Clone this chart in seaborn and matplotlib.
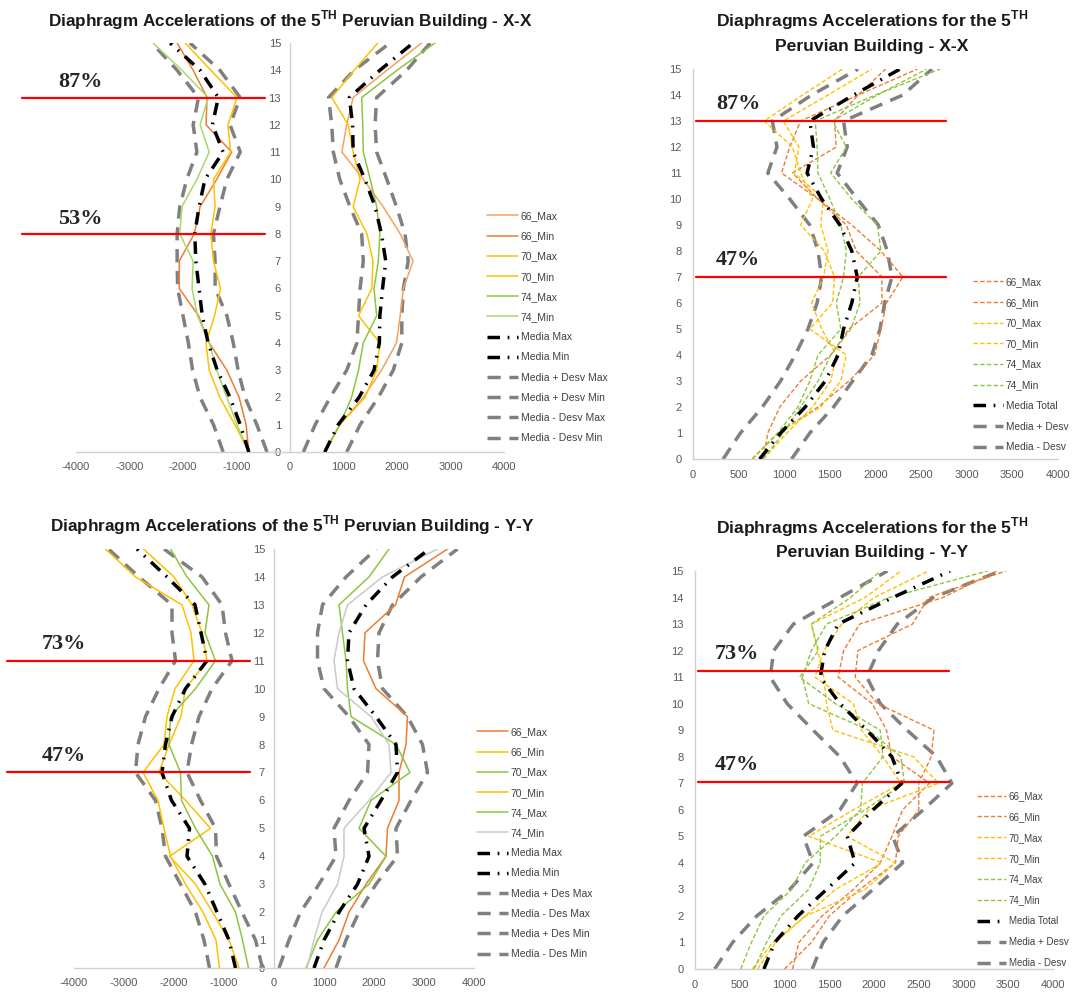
import matplotlib
matplotlib.use('Agg')
import matplotlib.pyplot as plt
import seaborn as sns
import numpy as np

W, H = 1072, 992

floors = list(range(16))

# ---- X-X direction (Min series on the negative side) ----
xx_66_max = [650, 930, 1370, 1710, 1990, 2060, 2120, 2300, 2060, 1740, 1370, 970, 1060, 1180, 1810, 2460]
xx_66_min = [-770, -820, -950, -1180, -1510, -1710, -2070, -2070, -1790, -1680, -1370, -1090, -1570, -1550, -1810, -2110]
xx_70_max = [650, 930, 1400, 1620, 1680, 1280, 1530, 1550, 1440, 1180, 1310, 1180, 1090, 780, 1200, 1640]
xx_70_min = [-770, -1030, -1310, -1510, -1570, -1410, -1300, -1430, -1480, -1400, -1430, -1110, -1160, -990, -1480, -1960]
xx_74_max = [650, 930, 1150, 1280, 1370, 1620, 1570, 1650, 1680, 1620, 1500, 1370, 1360, 1340, 2000, 2710]
xx_74_min = [-770, -990, -1180, -1370, -1510, -1730, -1830, -1810, -2060, -2020, -1740, -1510, -1680, -1530, -2020, -2560]
xx_media_max = [650, 900, 1290, 1570, 1670, 1680, 1730, 1790, 1710, 1590, 1400, 1180, 1170, 1110, 1680, 2300]
xx_media_min = [-770, -930, -1120, -1360, -1530, -1640, -1700, -1760, -1780, -1700, -1590, -1250, -1450, -1340, -1680, -2240]
xx_up_max = [1060, 1310, 1650, 1930, 2090, 2090, 2120, 2210, 2150, 1990, 1810, 1620, 1590, 1620, 2180, 2620]
xx_up_min = [-430, -620, -840, -970, -1060, -1180, -1400, -1400, -1430, -1310, -1180, -930, -1120, -930, -1310, -1870]
xx_lo_max = [250, 470, 750, 1060, 1250, 1280, 1310, 1370, 1340, 1120, 930, 810, 780, 720, 1200, 1870]
xx_lo_min = [-1250, -1430, -1680, -1820, -1900, -2000, -2100, -2110, -2110, -2060, -1930, -1740, -1810, -1710, -2110, -2580]
# combined X-X chart
xx_media_total = [730, 960, 1230, 1450, 1590, 1650, 1740, 1800, 1740, 1610, 1410, 1250, 1320, 1280, 1760, 2270]
xx_total_up = [1080, 1280, 1540, 1750, 1960, 2050, 2100, 2180, 2130, 2030, 1800, 1580, 1690, 1650, 2300, 2620]
xx_total_lo = [330, 520, 760, 960, 1120, 1260, 1360, 1410, 1370, 1280, 1060, 820, 920, 870, 1300, 1810]

# ---- Y-Y direction ----
yy_66_max = [1000, 1300, 1500, 1840, 2240, 2270, 2500, 2500, 2640, 2670, 2040, 1790, 1820, 2430, 2610, 3470]
yy_66_min = [-1090, -1160, -1420, -1770, -2070, -2200, -2320, -2620, -2200, -2140, -1980, -1600, -1660, -1840, -2770, -3370]
yy_70_max = [640, 870, 1240, 1900, 2240, 1700, 1940, 2720, 2440, 1540, 1470, 1440, 1370, 1300, 1900, 2300]
yy_70_min = [-700, -900, -1230, -1570, -2090, -1270, -1770, -2300, -2100, -1860, -1770, -1340, -1440, -1640, -2000, -2610]
yy_74_max = [-510, -630, -770, -1080, -1230, -1570, -1850, -1870, -2100, -2070, -1570, -1170, -1380, -1300, -1740, -2070]
yy_74_min = [660, 800, 960, 1270, 1400, 1400, 1900, 2340, 2300, 1940, 1270, 1200, 1300, 1470, 2170, 3270]
yy_media_max = [800, 1000, 1300, 1670, 1900, 1800, 2140, 2470, 2440, 2040, 1600, 1470, 1500, 1840, 2370, 3110]
yy_media_min = [-770, -900, -1140, -1380, -1740, -1690, -2050, -2240, -2170, -2040, -1770, -1340, -1460, -1580, -2140, -2740]
yy_up_max = [1240, 1440, 1700, 2040, 2470, 2440, 2740, 3070, 2970, 2670, 2170, 2070, 2100, 2370, 2940, 3670]
yy_lo_max = [100, 300, 530, 900, 1240, 1200, 1500, 1870, 1900, 1500, 1000, 870, 870, 970, 1440, 2040]
yy_up_min = [-230, -370, -640, -900, -1150, -1170, -1470, -1740, -1650, -1500, -1240, -840, -970, -1040, -1440, -2200]
yy_lo_min = [-1290, -1400, -1570, -1870, -2170, -2240, -2370, -2770, -2720, -2570, -2300, -1970, -2040, -2040, -2700, -3310]
# combined Y-Y chart
yy_media_total = [770, 890, 1150, 1470, 1790, 1700, 1990, 2310, 2200, 1920, 1620, 1400, 1450, 1600, 2210, 2850]
yy_total_up = [1310, 1430, 1650, 1990, 2320, 2210, 2550, 2870, 2700, 2370, 2070, 1920, 2050, 2260, 2660, 3410]
yy_total_lo = [220, 420, 690, 1060, 1320, 1210, 1620, 1810, 1620, 1320, 1030, 840, 880, 1100, 1620, 2150]

pct_xx_left = ([13, 8], ['87%', '53%'])
pct_xx_right = ([13, 7], ['87%', '47%'])
pct_yy_left = ([11, 7], ['73%', '47%'])
pct_yy_right = ([11.25, 7.05], ['73%', '47%'])

ORANGE = '#ED7D31'
ORANGE_L = '#F4A261'
GOLD = '#FFC000'
GREEN = '#8DC63F'
GREEN_L = '#A6D96A'
LGRAY = '#C9C9C9'
DGRAY = '#808080'

STYLES = {
    'solid': dict(linewidth=1.1, linestyle='-'),
    'thin': dict(linewidth=1.0, linestyle=(0, (3.2, 1.6))),
    'media': dict(linewidth=2.5, linestyle=(0, (3.6, 2.2, 0.5, 2.2))),
    'desv': dict(linewidth=2.5, linestyle=(0, (3.8, 2.5))),
}
ZORD = {'solid': 3, 'thin': 3, 'media': 4, 'desv': 2}

sns.set_style('white')
plt.rcParams['font.family'] = ['Liberation Sans Narrow', 'Liberation Sans', 'DejaVu Sans']
plt.rcParams['mathtext.fontset'] = 'custom'
plt.rcParams['mathtext.rm'] = 'Liberation Sans'
plt.rcParams['mathtext.bf'] = 'Liberation Sans:bold'
plt.rcParams['axes.unicode_minus'] = False

fig = plt.figure(figsize=(W / 100, H / 100), dpi=100)


def make_axes(left, right, top, bottom):
    return fig.add_axes([left / W, 1 - bottom / H, (right - left) / W, (bottom - top) / H])


def style_axes(ax, xlim, xstep, centered, ypad, xpad):
    ax.set_xlim(*xlim)
    ax.set_ylim(0, 15)
    ax.set_xticks(np.arange(xlim[0], xlim[1] + 1, xstep))
    ax.set_yticks(floors)
    for s in ['top', 'right']:
        ax.spines[s].set_visible(False)
    if centered:
        ax.spines['left'].set_position(('data', 0))
    for s in ['left', 'bottom']:
        ax.spines[s].set_color('#D0D0D0')
        ax.spines[s].set_linewidth(1.0)
    ax.tick_params(length=0, labelsize=8, labelcolor='#595959')
    ax.tick_params(axis='y', pad=ypad)
    ax.tick_params(axis='x', pad=xpad)
    ax.set_xlabel('')
    ax.set_ylabel('')
    ax.set_facecolor('none')


def draw(ax, series):
    for values, color, style, label in series:
        sns.lineplot(x=values, y=floors, orient='y', sort=False, estimator=None,
                     ax=ax, color=color, label=label, legend=False,
                     zorder=ZORD[style], **STYLES[style])


def add_legend(ax, x_px, y_px, spacing, size=7.5):
    handles, labels = ax.get_legend_handles_labels()
    fig.legend(handles, labels, loc='upper left', bbox_to_anchor=(x_px / W, 1 - y_px / H),
               frameon=False, fontsize=size, handlelength=3.0, handletextpad=0.25,
               labelspacing=spacing, borderpad=0, borderaxespad=0, labelcolor='#404040')


def add_marks(ax, x0_px, x1_px, ax_left, ax_right, lab_x_px, marks, lab_dy):
    span = ax_right - ax_left
    for fl, txt in zip(*marks):
        ax.axhline(fl, xmin=(x0_px - ax_left) / span, xmax=(x1_px - ax_left) / span,
                   color='#FF0000', lw=1.6, clip_on=False, zorder=6)
        ax.annotate(txt, xy=((lab_x_px - ax_left) / span, fl), xycoords=ax.get_yaxis_transform(),
                    xytext=(0, lab_dy), textcoords='offset points', ha='left', va='center',
                    family='Liberation Serif', fontweight='bold', fontsize=16,
                    annotation_clip=False)


def title(x_px, y_px, text, size):
    fig.text(x_px / W, 1 - y_px / H, text, ha='center', va='center',
             fontsize=size, fontweight='bold', color='#1A1A1A')


# ---- panel A: X-X, Max / Min split ----
axA = make_axes(76, 504, 43, 452)
draw(axA, [
    (xx_66_max, ORANGE_L, 'solid', '66_Max'),
    (xx_66_min, ORANGE, 'solid', '66_Min'),
    (xx_70_max, GOLD, 'solid', '70_Max'),
    (xx_70_min, GOLD, 'solid', '70_Min'),
    (xx_74_max, GREEN, 'solid', '74_Max'),
    (xx_74_min, GREEN_L, 'solid', '74_Min'),
    (xx_media_max, 'black', 'media', 'Media Max'),
    (xx_media_min, 'black', 'media', 'Media Min'),
    (xx_up_max, DGRAY, 'desv', 'Media + Desv Max'),
    (xx_up_min, DGRAY, 'desv', 'Media + Desv Min'),
    (xx_lo_max, DGRAY, 'desv', 'Media - Desv Max'),
    (xx_lo_min, DGRAY, 'desv', 'Media - Desv Min'),
])
style_axes(axA, (-4000, 4000), 1000, True, 6.5, 7)
add_legend(axA, 487, 211, 0.98)
add_marks(axA, 22, 265, 76, 504, 58, pct_xx_left, 11)
title(290, 20, 'Diaphragm Accelerations of the 5$^{\\mathbf{TH}}$ Peruvian Building - X-X', 12.3)

# ---- panel B: X-X combined ----
axB = make_axes(693, 1058, 69, 459)
draw(axB, [
    (np.abs(xx_66_max), ORANGE, 'thin', '66_Max'),
    (np.abs(xx_66_min), ORANGE, 'thin', '66_Min'),
    (np.abs(xx_70_max), GOLD, 'thin', '70_Max'),
    (np.abs(xx_70_min), GOLD, 'thin', '70_Min'),
    (np.abs(xx_74_max), GREEN, 'thin', '74_Max'),
    (np.abs(xx_74_min), GREEN, 'thin', '74_Min'),
    (xx_media_total, 'black', 'media', 'Media Total'),
    (xx_total_up, DGRAY, 'desv', 'Media + Desv'),
    (xx_total_lo, DGRAY, 'desv', 'Media - Desv'),
])
style_axes(axB, (0, 4000), 500, False, 8, 8)
add_legend(axB, 973, 277, 1.05, 7.3)
add_marks(axB, 696, 946, 693, 1058, 716, pct_xx_right, 12)
title(872, 20, 'Diaphragms Accelerations for the 5$^{\\mathbf{TH}}$', 12.6)
title(872, 47, 'Peruvian Building - X-X', 12.6)

# ---- panel C: Y-Y, Max / Min split ----
axC = make_axes(74, 474, 549, 968)
draw(axC, [
    (yy_66_max, ORANGE, 'solid', '66_Max'),
    (yy_66_min, GOLD, 'solid', '66_Min'),
    (yy_70_max, GREEN, 'solid', '70_Max'),
    (yy_70_min, GOLD, 'solid', '70_Min'),
    (yy_74_max, GREEN, 'solid', '74_Max'),
    (yy_74_min, LGRAY, 'solid', '74_Min'),
    (yy_media_max, 'black', 'media', 'Media Max'),
    (yy_media_min, 'black', 'media', 'Media Min'),
    (yy_up_max, DGRAY, 'desv', 'Media + Des Max'),
    (yy_lo_max, DGRAY, 'desv', 'Media - Des Max'),
    (yy_up_min, DGRAY, 'desv', 'Media + Des Min'),
    (yy_lo_min, DGRAY, 'desv', 'Media - Des Min'),
])
style_axes(axC, (-4000, 4000), 1000, True, 6.5, 7)
add_legend(axC, 477, 727, 0.98)
add_marks(axC, 7, 250, 74, 474, 42, pct_yy_left, 12)
title(292, 525, 'Diaphragm Accelerations of the 5$^{\\mathbf{TH}}$ Peruvian Building - Y-Y', 12.3)

# ---- panel D: Y-Y combined ----
axD = make_axes(695, 1053, 571, 969)
draw(axD, [
    (yy_66_max, ORANGE, 'thin', '66_Max'),
    (np.abs(yy_66_min), ORANGE, 'thin', '66_Min'),
    (yy_70_max, GOLD, 'thin', '70_Max'),
    (np.abs(yy_70_min), GOLD, 'thin', '70_Min'),
    (np.abs(yy_74_max), GREEN, 'thin', '74_Max'),
    (yy_74_min, GREEN, 'thin', '74_Min'),
    (yy_media_total, 'black', 'media', 'Media Total'),
    (yy_total_up, DGRAY, 'desv', 'Media + Desv'),
    (yy_total_lo, DGRAY, 'desv', 'Media - Desv'),
])
style_axes(axD, (0, 4000), 500, False, 8, 8)
add_legend(axD, 977, 791, 1.12, 7.0)
add_marks(axD, 698, 949, 695, 1053, 715, pct_yy_right, 12)
title(872, 527, 'Diaphragms Accelerations for the 5$^{\\mathbf{TH}}$', 12.6)
title(872, 552, 'Peruvian Building - Y-Y', 12.6)

fig.savefig('out.png', dpi=100)
